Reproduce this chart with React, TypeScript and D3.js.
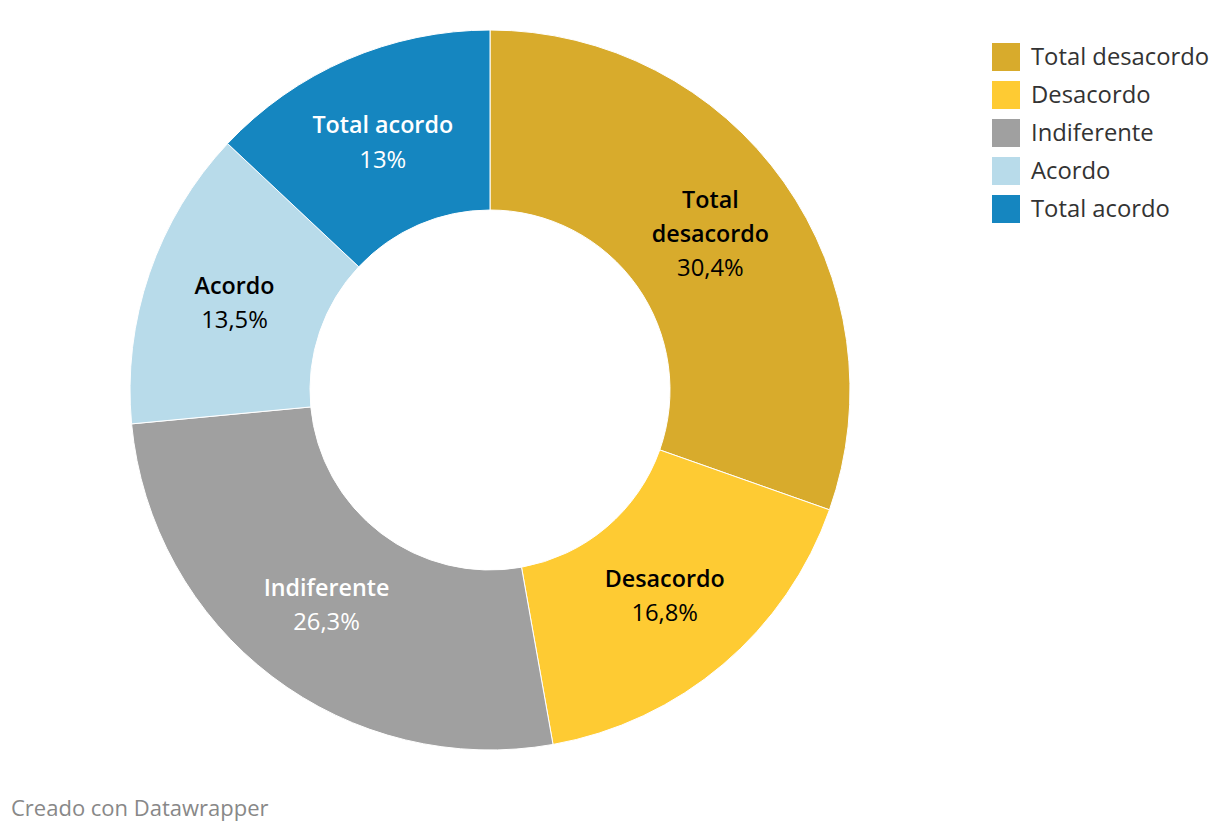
import React from "react";
import * as d3 from "d3";

const categories = ["Total desacordo", "Desacordo", "Indiferente", "Acordo", "Total acordo"];
const values = [30.4, 16.8, 26.3, 13.5, 13];
const valueLabels = ["30,4%", "16,8%", "26,3%", "13,5%", "13%"];
const labelLines = [["Total", "desacordo"], ["Desacordo"], ["Indiferente"], ["Acordo"], ["Total acordo"]];
const colors = ["#d8ab2c", "#fecb33", "#a0a0a0", "#b8dbea", "#1586c0"];
const labelColors = ["#000", "#000", "#fff", "#000", "#fff"];

const W = 1220, H = 832;
const cx = 490, cy = 390, rOuter = 360, rInner = 180;
const FONT = "'Open Sans', sans-serif";

export default function App() {
  const pie = d3.pie<number>().sort(null).value((d) => d);
  const arcs = pie(values);
  const arc = d3.arc<d3.PieArcDatum<number>>().innerRadius(rInner).outerRadius(rOuter);
  const labelArc = d3.arc<d3.PieArcDatum<number>>().innerRadius(rInner).outerRadius(rOuter);
  const lineH = 34;
  const legendY = d3.scaleBand<string>().domain(categories).range([42, 42 + 38 * categories.length]);

  return (
    <svg width={W} height={H} style={{ position: "absolute", left: 0, top: 0, background: "#fff" }} fontFamily={FONT}>
      <g transform={`translate(${cx},${cy})`}>
        {arcs.map((a, i) => (
          <path key={i} d={arc(a) || ""} fill={colors[i]} stroke="#fff" strokeWidth={1} />
        ))}
        {arcs.map((a, i) => {
          const [x, y] = labelArc.centroid(a);
          const lines = labelLines[i];
          const n = lines.length + 1;
          const y0 = y - ((n - 1) * lineH) / 2;
          return (
            <g key={"l" + i} fill={labelColors[i]} textAnchor="middle">
              {lines.map((t, j) => (
                <text key={j} x={x} y={y0 + j * lineH} dy="0.35em" fontWeight={600} fontSize={23.3}>{t}</text>
              ))}
              <text x={x} y={y0 + lines.length * lineH} dy="0.35em" fontWeight={400} fontSize={23.8}>{valueLabels[i]}</text>
            </g>
          );
        })}
      </g>
      <g>
        {categories.map((c, i) => (
          <g key={c} transform={`translate(992,${legendY(c)})`}>
            <rect x={0} y={1} width={28} height={28} fill={colors[i]} />
            <text x={39} y={15} dy="0.35em" fontSize={23.8} fill="#333">{c}</text>
          </g>
        ))}
      </g>
      <text x={11} y={808} dy="0.35em" fontSize={22} fill="#888">Creado con Datawrapper</text>
    </svg>
  );
}
